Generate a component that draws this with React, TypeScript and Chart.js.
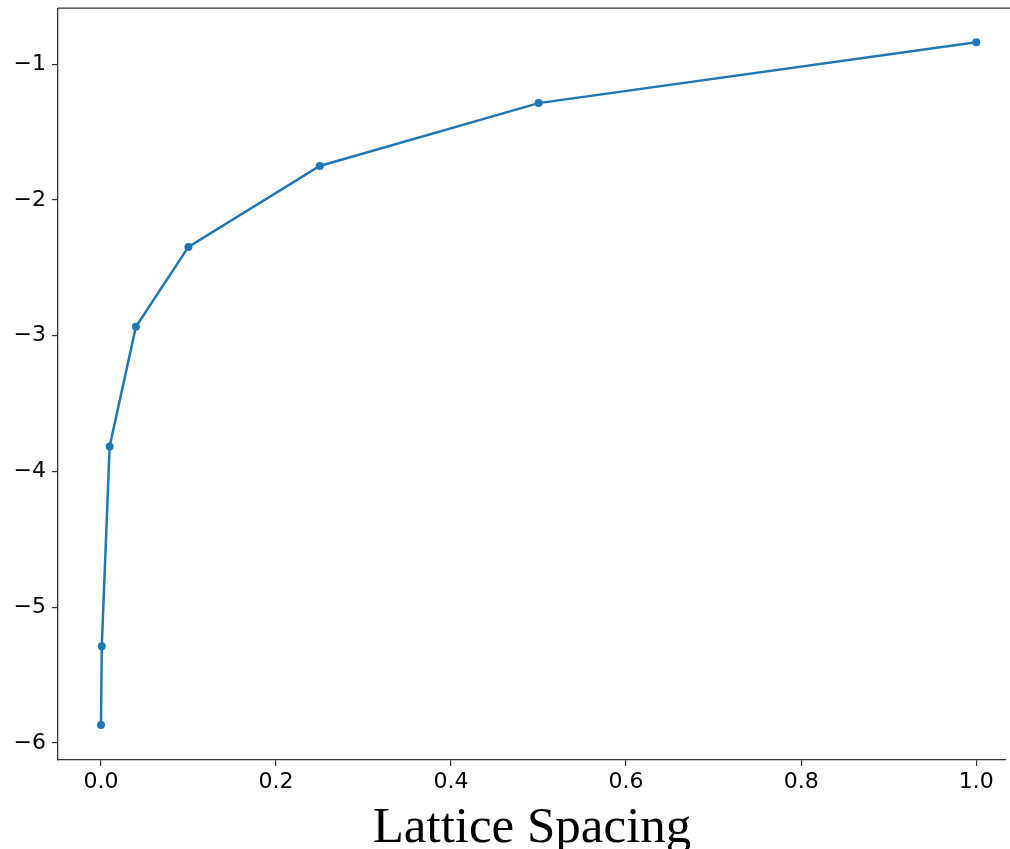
import React, { useEffect, useRef } from "react";
import { Chart, registerables } from "chart.js";

Chart.register(...registerables);

const spacing = [0.0001, 0.001, 0.01, 0.04, 0.1, 0.25, 0.5, 1.0];
const values = [-5.868, -5.287, -3.816, -2.934, -2.346, -1.75, -1.287, -0.838];
const xTicks = [0, 0.2, 0.4, 0.6, 0.8, 1.0];
const yTicks = [-6, -5, -4, -3, -2, -1];
const xLabel = "Lattice Spacing";

const topSpine = {
  id: "topSpine",
  afterDraw(chart: any) {
    const { ctx, chartArea } = chart;
    ctx.save();
    ctx.strokeStyle = "#333";
    ctx.lineWidth = 1.3;
    ctx.beginPath();
    ctx.moveTo(chartArea.left, chartArea.top);
    ctx.lineTo(chartArea.right + 5, chartArea.top);
    ctx.stroke();
    ctx.restore();
  },
};

export default function App() {
  const ref = useRef<HTMLCanvasElement>(null);
  useEffect(() => {
    const chart = new Chart(ref.current!, {
      type: "line",
      data: {
        datasets: [
          {
            data: spacing.map((x, i) => ({ x, y: values[i] })),
            borderColor: "#1f77b4",
            backgroundColor: "#1f77b4",
            borderWidth: 2.5,
            pointRadius: 4,
            pointHoverRadius: 4,
            pointBorderWidth: 0,
            tension: 0,
          },
        ],
      },
      options: {
        animation: false,
        responsive: false,
        maintainAspectRatio: false,
        layout: { padding: { top: -3, right: 0, left: 0, bottom: 0 } },
        plugins: { legend: { display: false }, tooltip: { enabled: false } },
        scales: {
          x: {
            type: "linear",
            min: -0.049,
            max: 1.034,
            afterBuildTicks: (s: any) => {
              s.ticks = xTicks.map((v) => ({ value: v }));
            },
            afterFit: (s: any) => {
              s.height = 89;
            },
            ticks: {
              color: "#000",
              padding: 3,
              font: { family: "DejaVu Sans", size: 22 },
              callback: (v: any) => Number(v).toFixed(1),
            },
            grid: { drawOnChartArea: false, tickLength: 6, color: "#333", lineWidth: 1.2 },
            border: { color: "#333", width: 1.3 },
            title: {
              display: true,
              text: xLabel,
              color: "#000",
              font: { family: "Liberation Serif", size: 51 },
              padding: { top: 16, bottom: -10 },
            },
          },
          y: {
            type: "linear",
            min: -6.125,
            max: -0.588,
            afterBuildTicks: (s: any) => {
              s.ticks = yTicks.map((v) => ({ value: v }));
            },
            afterFit: (s: any) => {
              s.width = 58;
            },
            ticks: {
              color: "#000",
              padding: 6,
              font: { family: "DejaVu Sans", size: 22 },
              callback: (v: any) => "\u2212" + Math.abs(Number(v)).toFixed(0),
            },
            grid: { drawOnChartArea: false, tickLength: 6, color: "#333", lineWidth: 1.2 },
            border: { color: "#333", width: 1.3 },
          },
        },
      },
      plugins: [topSpine],
    });
    return () => chart.destroy();
  }, []);
  return (
    <div style={{ position: "fixed", left: 0, top: 0, width: 1010, height: 849, background: "#fff", overflow: "hidden" }}>
      <canvas
        ref={ref}
        width={1010}
        height={860}
        style={{ position: "absolute", left: 0, top: -11, width: 1010, height: 860 }}
      />
    </div>
  );
}
